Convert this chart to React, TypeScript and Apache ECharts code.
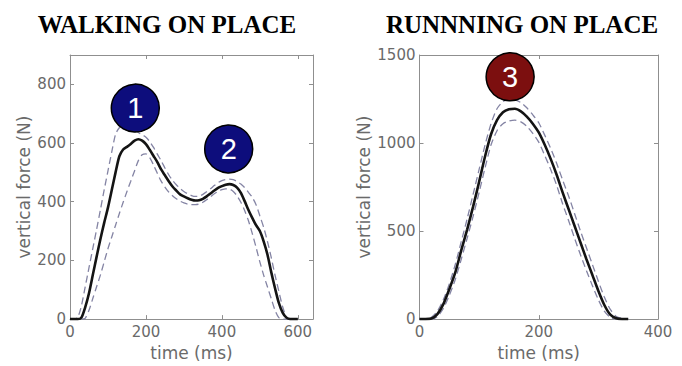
import React, { useEffect, useRef } from "react";
import * as echarts from "echarts";

// ---- Walking on place ----
const walkTime = [0,10,20,30,40,50,60,70,80,90,100,110,120,130,140,150,160,170,180,190,200,210,220,230,240,250,260,270,280,290,300,310,320,330,340,350,360,370,380,390,400,410,420,430,440,450,460,470,480,490,500,510,520,530,540,550,560,570,580,590,600];
const walkMean = [0,0,0,5,40,88,150,212,272,328,380,440,500,555,578,587,597,608,613,608,596,577,556,535,510,490,470,452,438,425,418,412,407,404,405,410,418,428,438,447,453,458,460,457,448,430,402,372,345,320,300,265,220,160,105,55,22,5,0,0,0];
const walkUpper = [0,0,5,45,110,175,240,305,372,440,505,570,630,652,660,660,656,648,636,628,620,605,585,562,540,515,492,473,458,445,435,427,421,418,419,425,434,444,455,465,472,476,477,475,469,460,448,432,415,390,352,313,265,210,150,95,42,8,0,0,0];
const walkLower = [0,0,0,0,3,30,70,110,150,195,240,280,320,360,398,435,470,505,540,560,563,550,525,497,470,450,433,420,410,402,396,392,390,390,392,398,407,417,427,435,441,444,443,435,420,398,370,335,292,245,195,150,110,70,30,5,0,0,0,0,0];

// ---- Running on place ----
const runTime = [0,10,20,30,40,50,60,70,80,90,100,110,120,130,140,150,160,170,180,190,200,210,220,230,240,250,260,270,280,290,300,310,320,330,340,350];
const runMean = [0,0,3,28,85,170,265,390,510,640,780,925,1050,1130,1175,1192,1195,1180,1150,1110,1060,990,910,820,720,625,530,435,340,250,160,80,25,5,0,0];
const runUpper = [0,0,10,45,110,200,310,440,570,710,850,990,1110,1195,1235,1250,1245,1230,1200,1160,1115,1045,970,885,790,700,600,500,405,310,215,125,55,15,3,0];
const runLower = [0,0,0,15,60,135,225,340,460,585,720,860,990,1070,1110,1125,1130,1120,1095,1055,1005,930,850,760,655,560,460,365,275,190,110,45,10,0,0,0];

// ---- Annotation markers (data coordinates) ----
const walkMarkerTime = [172, 418];
const walkMarkerForce = [719, 580];
const walkMarkerLabel = ["1", "2"];
const runMarkerTime = [152];
const runMarkerForce = [1376];
const runMarkerLabel = ["3"];

// ---- Axis settings ----
const walkXMax = 640;
const walkXStep = 200;
const walkYMax = 900;
const walkYStep = 200;
const runXMax = 400;
const runXStep = 200;
const runYMax = 1500;
const runYStep = 500;

const titles = ["WALKING ON PLACE", "RUNNNING ON PLACE"];
const xName = "time (ms)";
const yName = "vertical force (N)";

const zip = (t: number[], v: number[]) => t.map((x, i) => [x, v[i]]);

const FRAME = "#8f8f8f";
const LABEL = "#6a6a6a";
const FONT = "DejaVu Sans";

function xAxisDef(gridIndex: number, max: number, step: number, top: boolean) {
  return {
    type: "value",
    gridIndex,
    min: 0,
    max,
    interval: step,
    position: top ? "top" : "bottom",
    name: top ? "" : xName,
    nameLocation: "middle",
    nameGap: 17,
    nameTextStyle: { color: LABEL, fontFamily: FONT, fontSize: 17 },
    axisLine: { show: true, onZero: false, lineStyle: { color: FRAME, width: 1 } },
    axisTick: { show: true, inside: true, length: 4, lineStyle: { color: FRAME } },
    axisLabel: {
      show: !top,
      margin: 5,
      color: LABEL,
      fontFamily: FONT,
      fontSize: 15,
      formatter: (v: number) => (v % step === 0 ? String(v) : ""),
    },
    splitLine: { show: false },
  };
}

function yAxisDef(gridIndex: number, max: number, step: number, right: boolean, gap: number) {
  return {
    type: "value",
    gridIndex,
    min: 0,
    max,
    interval: step,
    position: right ? "right" : "left",
    name: right ? "" : yName,
    nameLocation: "middle",
    nameGap: gap,
    nameTextStyle: { color: LABEL, fontFamily: FONT, fontSize: 17 },
    axisLine: { show: true, onZero: false, lineStyle: { color: FRAME, width: 1 } },
    axisTick: { show: true, inside: true, length: 4, lineStyle: { color: FRAME } },
    axisLabel: {
      show: !right,
      margin: 4,
      color: LABEL,
      fontFamily: FONT,
      fontSize: 15,
      formatter: (v: number) => (v % step === 0 ? String(v) : ""),
    },
    splitLine: { show: false },
  };
}

function lineSeries(xi: number, yi: number, data: number[][], solid: boolean) {
  return {
    type: "line",
    xAxisIndex: xi,
    yAxisIndex: yi,
    data,
    smooth: 0.25,
    showSymbol: false,
    symbol: "none",
    z: solid ? 4 : 3,
    lineStyle: solid
      ? { color: "#141414", width: 2.6, type: "solid" }
      : { color: "#8484a4", width: 1.3, type: [7, 4] },
  };
}

function markerSeries(xi: number, yi: number, t: number[], f: number[], labels: string[], color: string) {
  return {
    type: "scatter",
    xAxisIndex: xi,
    yAxisIndex: yi,
    z: 10,
    symbol: "circle",
    symbolSize: 48,
    data: t.map((x, i) => ({ value: [x, f[i]], name: labels[i] })),
    itemStyle: { color, borderColor: "#000", borderWidth: 1.5, opacity: 1 },
    label: {
      show: true,
      position: "inside",
      formatter: (p: any) => p.name,
      color: "#ffffff",
      fontFamily: "Liberation Sans",
      fontSize: 29,
    },
  };
}

export default function App() {
  const ref = useRef<HTMLDivElement>(null);
  useEffect(() => {
    if (!ref.current) return;
    const chart = echarts.init(ref.current, undefined, { renderer: "svg" });
    chart.setOption({
      animation: false,
      backgroundColor: "#ffffff",
      title: [
        {
          text: titles[0],
          left: 162,
          top: 7,
          textAlign: "center",
          textStyle: { fontFamily: "Liberation Serif", fontWeight: "bold", fontSize: 25, color: "#000" },
        },
        {
          text: titles[1],
          left: 517,
          top: 7,
          textAlign: "center",
          textStyle: { fontFamily: "Liberation Serif", fontWeight: "bold", fontSize: 25, color: "#000" },
        },
      ],
      grid: [
        { left: 70, top: 55, width: 243, height: 268.5, show: false },
        { left: 419.5, top: 55, width: 238.5, height: 268.5, show: false },
      ],
      xAxis: [
        xAxisDef(0, walkXMax, walkXStep, false),
        xAxisDef(0, walkXMax, walkXStep, true),
        xAxisDef(1, runXMax, runXStep, false),
        xAxisDef(1, runXMax, runXStep, true),
      ],
      yAxis: [
        yAxisDef(0, walkYMax, walkYStep, false, 38),
        yAxisDef(0, walkYMax, walkYStep, true, 0),
        yAxisDef(1, runYMax, runYStep, false, 47),
        yAxisDef(1, runYMax, runYStep, true, 0),
      ],
      series: [
        lineSeries(0, 0, zip(walkTime, walkUpper), false),
        lineSeries(0, 0, zip(walkTime, walkLower), false),
        lineSeries(0, 0, zip(walkTime, walkMean), true),
        lineSeries(2, 2, zip(runTime, runUpper), false),
        lineSeries(2, 2, zip(runTime, runLower), false),
        lineSeries(2, 2, zip(runTime, runMean), true),
        markerSeries(0, 0, walkMarkerTime, walkMarkerForce, walkMarkerLabel, "#0d0d7c"),
        markerSeries(2, 2, runMarkerTime, runMarkerForce, runMarkerLabel, "#7c0f0f"),
      ],
    });
    return () => chart.dispose();
  }, []);
  return (
    <div
      ref={ref}
      style={{ position: "fixed", left: 0, top: 0, width: 682, height: 366, background: "#fff" }}
    />
  );
}
